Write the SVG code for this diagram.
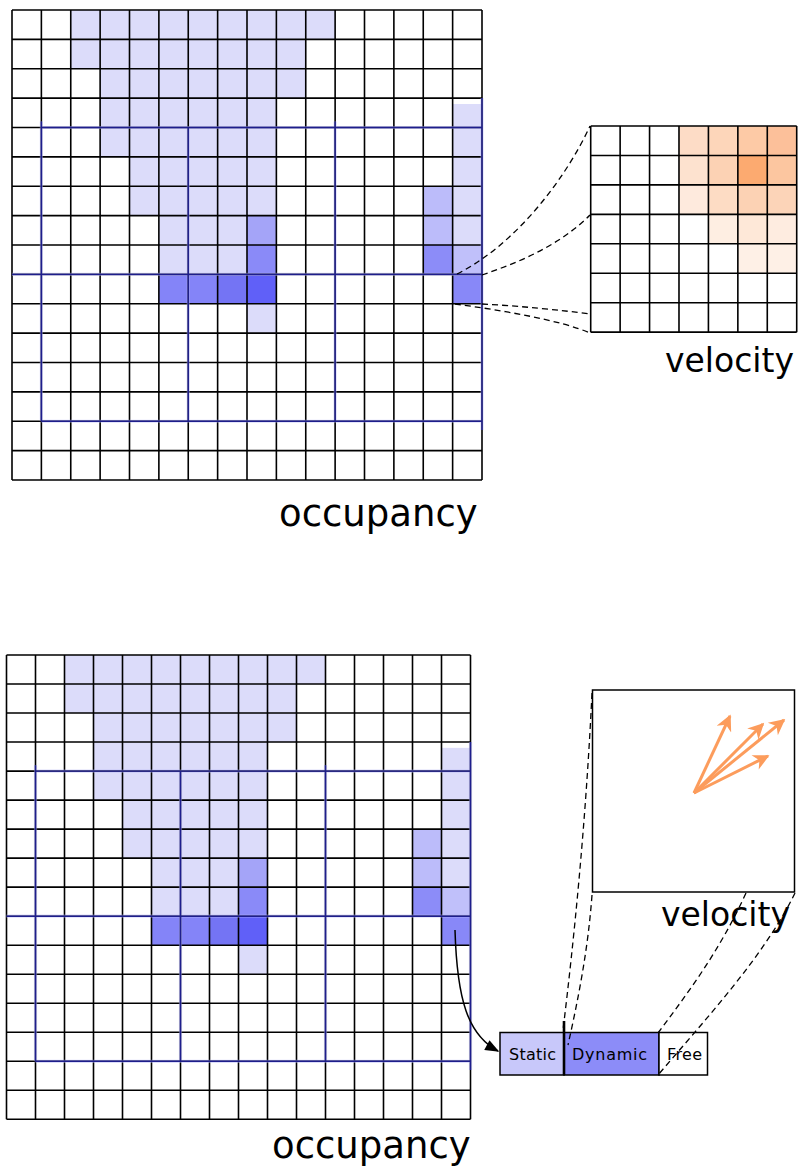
<svg xmlns="http://www.w3.org/2000/svg" xmlns:xlink="http://www.w3.org/1999/xlink" width="800" height="1169" viewBox="0 0 800 1169">
<style>
.gl{fill:none;stroke:#000;stroke-width:1.6;vector-effect:non-scaling-stroke}
.halo{fill:none;stroke:#b4b4f6;stroke-width:3.2;opacity:.45;vector-effect:non-scaling-stroke}
.coarse{fill:none;stroke:#1e1e8c;stroke-width:1.4;vector-effect:non-scaling-stroke}
.l{fill:#dcdcfa}
.lbl{font-family:"DejaVu Sans",sans-serif;fill:#000}
.dash{fill:none;stroke:#000;stroke-width:1.3;stroke-dasharray:6 4}
.orange{fill:none;stroke:#fc9c5c;stroke-width:3}
.box{stroke:#000;stroke-width:1.5}
</style>
<defs>
<marker id="oh" viewBox="0 0 10 10" refX="9" refY="5" markerWidth="22" markerHeight="16" markerUnits="userSpaceOnUse" orient="auto"><path d="M0,0L10,5L0,10L3,5Z" fill="#fc9c5c"/></marker>
<marker id="bh" viewBox="0 0 10 10" refX="9" refY="5" markerWidth="18" markerHeight="14" markerUnits="userSpaceOnUse" orient="auto"><path d="M0,1L10,5L0,9Z" fill="#000"/></marker>
<g id="occ">
<rect class="l" x="2" y="0" width="9" height="1"/>
<rect class="l" x="2" y="1" width="8" height="1"/>
<rect class="l" x="3" y="2" width="7" height="1"/>
<rect class="l" x="3" y="3" width="6" height="2"/>
<rect class="l" x="4" y="5" width="5" height="2"/>
<rect class="l" x="5" y="7" width="3" height="2"/>
<rect class="l" x="15" y="3.2" width="1" height="4.8"/>
<rect class="l" x="8" y="10" width="1" height="1"/>
<rect fill="#bcbcfa" x="14" y="6" width="1" height="2"/>
<rect fill="#a4a4f8" x="8" y="7" width="1" height="1"/>
<rect fill="#8a8af8" x="8" y="8" width="1" height="1"/>
<rect fill="#8c8cf8" x="14" y="8" width="1" height="1"/>
<rect fill="#c0c0fa" x="15" y="8" width="1" height="1"/>
<rect fill="#8484f8" x="5" y="9" width="2" height="1"/>
<rect fill="#7474f4" x="7" y="9" width="1" height="1"/>
<rect fill="#6060f8" x="8" y="9" width="1" height="1"/>
<rect fill="#8888f8" x="15" y="9" width="1" height="1"/>
<path class="gl" d="M0 0H16M0 1H16M0 2H16M0 3H16M0 4H16M0 5H16M0 6H16M0 7H16M0 8H16M0 9H16M0 10H16M0 11H16M0 12H16M0 13H16M0 14H16M0 15H16M0 16H16M0 0V16M1 0V16M2 0V16M3 0V16M4 0V16M5 0V16M6 0V16M7 0V16M8 0V16M9 0V16M10 0V16M11 0V16M12 0V16M13 0V16M14 0V16M15 0V16M16 0V16"/>
<path class="halo" d="M1 4H16M0 9H16M1 14H16M1 3.8V14M6 4V14M11 3.8V14M16 3V14.3"/>
<path class="coarse" d="M1 4H16M0 9H16M1 14H16M1 3.8V14M6 4V14M11 3.8V14M16 3V14.3"/>
</g>
</defs>

<g id="occupancy-top">
<use xlink:href="#occ" transform="translate(12,10) scale(29.375)"/>
<text class="lbl" x="279" y="526" font-size="37">occupancy</text>
</g>

<g id="velocity-top">
<g transform="translate(590.7,126) scale(29.43,29.45)">
<rect fill="#fddcc6" x="3" y="0" width="1" height="1"/>
<rect fill="#fdd6ba" x="4" y="0" width="1" height="1"/>
<rect fill="#fdcaa6" x="5" y="0" width="1" height="1"/>
<rect fill="#fcc09a" x="6" y="0" width="1" height="1"/>
<rect fill="#fde2cf" x="3" y="1" width="1" height="1"/>
<rect fill="#fcd2b4" x="4" y="1" width="1" height="1"/>
<rect fill="#fcaa70" x="5" y="1" width="1" height="1"/>
<rect fill="#fcc6a0" x="6" y="1" width="1" height="1"/>
<rect fill="#feeadd" x="3" y="2" width="1" height="1"/>
<rect fill="#fddcc4" x="4" y="2" width="1" height="1"/>
<rect fill="#fcd2b4" x="5" y="2" width="1" height="1"/>
<rect fill="#fcd4b8" x="6" y="2" width="1" height="1"/>
<rect fill="#feeee2" x="4" y="3" width="1" height="1"/>
<rect fill="#fee8d8" x="5" y="3" width="1" height="1"/>
<rect fill="#feece0" x="6" y="3" width="1" height="1"/>
<rect fill="#fef0e6" x="5" y="4" width="2" height="1"/>
<path class="gl" d="M0 0H7M0 1H7M0 2H7M0 3H7M0 4H7M0 5H7M0 6H7M0 7H7M0 0V7M1 0V7M2 0V7M3 0V7M4 0V7M5 0V7M6 0V7M7 0V7"/>
</g>
<text class="lbl" x="665" y="372" font-size="33">velocity</text>
</g>

<g id="occupancy-bottom">
<use xlink:href="#occ" transform="translate(6.5,655) scale(29,29.02)"/>
<text class="lbl" x="272" y="1158" font-size="37">occupancy</text>
</g>

<g id="velocity-bottom">
<rect x="592.5" y="690" width="202" height="202" fill="#fff" class="box"/>
<g id="velocity-arrows">
<path class="orange" d="M694,793L730,716" marker-end="url(#oh)"/>
<path class="orange" d="M694,793L784,720" marker-end="url(#oh)"/>
<path class="orange" d="M694,793L763,724" marker-end="url(#oh)"/>
<path class="orange" d="M694,793L768,756" marker-end="url(#oh)"/>
</g>
<text class="lbl" x="661" y="926" font-size="33">velocity</text>
</g>

<g id="classes">
<rect x="500" y="1032.5" width="64" height="42.5" fill="#c8c8fa" class="box"/>
<rect x="564" y="1032.5" width="95" height="42.5" fill="#8c8cf8" class="box"/>
<rect x="659" y="1032.5" width="48.5" height="42.5" fill="#fff" class="box"/>
<line x1="564" y1="1021" x2="564" y2="1075" stroke="#000" stroke-width="2.6"/>
<text class="lbl" x="509" y="1060" font-size="16" textLength="47" lengthAdjust="spacing">Static</text>
<text class="lbl" x="572" y="1060" font-size="16" textLength="75" lengthAdjust="spacing">Dynamic</text>
<text class="lbl" x="667" y="1060" font-size="16" textLength="35" lengthAdjust="spacing">Free</text>
</g>

<g id="connectors">
<path class="dash" d="M457,274C515,245 565,180 590,126"/>
<path class="dash" d="M482,275C520,262 560,245 590,215"/>
<path class="dash" d="M482,304C520,306 560,310 590,314"/>
<path class="dash" d="M455,304C500,310 560,320 590,333"/>
<path class="dash" d="M592,693C586,820 574,940 563,1030"/>
<path class="dash" d="M592,895C588,950 578,1000 568,1045"/>
<path class="dash" d="M746,893C720,950 690,990 658,1033"/>
<path class="dash" d="M795,893C765,955 705,1020 658,1075"/>
<path d="M455,930C457,1000 468,1035 498,1051" fill="none" stroke="#000" stroke-width="1.5" marker-end="url(#bh)"/>
</g>
</svg>
